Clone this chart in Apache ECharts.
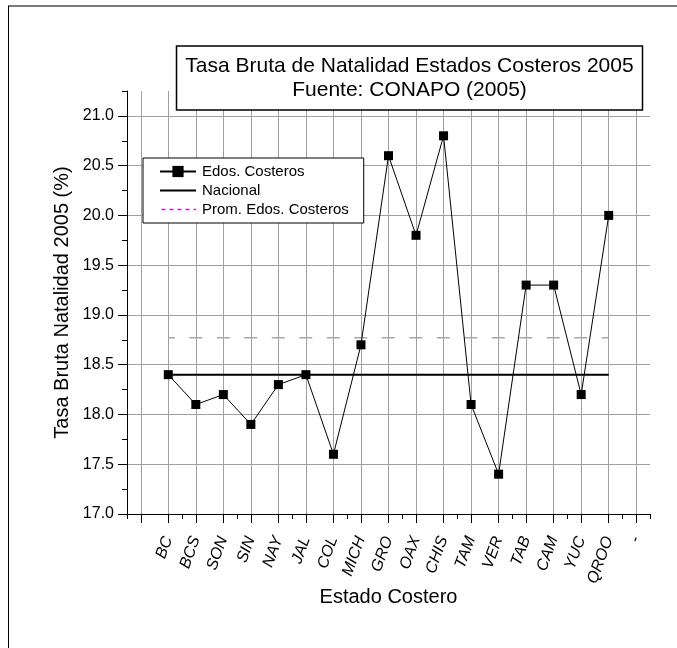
<!DOCTYPE html>
<html>
<head>
<meta charset="utf-8">
<script src="https://cdn.jsdelivr.net/npm/echarts@6/dist/echarts.min.js"></script>
<style>html,body{margin:0;padding:0;background:#fff}#c{width:677px;height:648px}</style>
</head>
<body>
<div id="c"></div>
<script>
const categories = ['', 'BC', 'BCS', 'SON', 'SIN', 'NAY', 'JAL', 'COL', 'MICH', 'GRO', 'OAX', 'CHIS', 'TAM', 'VER', 'TAB', 'CAM', 'YUC', 'QROO', '-'];
const edosCosteros = [null, 18.4, 18.1, 18.2, 17.9, 18.3, 18.4, 17.6, 18.7, 20.6, 19.8, 20.8, 18.1, 17.4, 19.3, 19.3, 18.2, 20.0, null];
const nacional = [null, 18.4, 18.4, 18.4, 18.4, 18.4, 18.4, 18.4, 18.4, 18.4, 18.4, 18.4, 18.4, 18.4, 18.4, 18.4, 18.4, 18.4, null];
const promEdos = [null, 18.77, 18.77, 18.77, 18.77, 18.77, 18.77, 18.77, 18.77, 18.77, 18.77, 18.77, 18.77, 18.77, 18.77, 18.77, 18.77, 18.77, null];
const yTickValues = [17.0, 17.5, 18.0, 18.5, 19.0, 19.5, 20.0, 20.5, 21.0];

const FONT = '"Liberation Sans", Arial, sans-serif';
const chart = echarts.init(document.getElementById('c'), null, {renderer: 'canvas'});
const option = {
  backgroundColor: '#fff',
  animation: false,
  textStyle: {fontFamily: FONT, color: '#000'},
  title: {
    text: 'Tasa Bruta de Natalidad Estados Costeros 2005\nFuente: CONAPO (2005)',
    left: 400.5,
    top: 46,
    textAlign: 'center',
    padding: [8, 9, 8, 9],
    borderColor: '#000',
    borderWidth: 1.5,
    backgroundColor: '#fff',
    textStyle: {fontFamily: FONT, fontSize: 21, fontWeight: 'normal', color: '#000', lineHeight: 24, align: 'center'}
  },
  legend: {
    orient: 'vertical',
    left: 143,
    top: 158,
    padding: [6, 15, 6, 16],
    itemWidth: 36,
    itemHeight: 14,
    itemGap: 4,
    borderColor: '#000',
    borderWidth: 1,
    backgroundColor: '#fff',
    textStyle: {fontFamily: FONT, fontSize: 15, color: '#000', padding: [0, 0, 0, 1]},
    data: [
      {name: 'Edos. Costeros'},
      {name: 'Nacional', itemStyle: {opacity: 0}},
      {name: 'Prom. Edos. Costeros', itemStyle: {opacity: 0}, lineStyle: {color: '#ff00ff', type: [4, 4], width: 1.5}}
    ]
  },
  grid: {left: 127, right: 27, top: 91, bottom: 134, containLabel: false, outerBoundsMode: 'none'},
  xAxis: [
    {
      type: 'category',
      data: categories,
      boundaryGap: true,
      position: 'bottom',
      name: 'Estado Costero',
      nameLocation: 'middle',
      nameGap: 73,
      nameMoveOverlap: false,
      nameTextStyle: {fontFamily: FONT, fontSize: 20, color: '#000'},
      axisLine: {show: true, lineStyle: {color: '#000', width: 1}},
      axisTick: {show: true, alignWithLabel: true, length: 9, lineStyle: {color: '#000', width: 1}},
      axisLabel: {interval: 0, rotate: 70, margin: 23, fontFamily: FONT, fontSize: 16, fontStyle: 'italic', color: '#000', hideOverlap: false},
      splitLine: {show: true, alignWithLabel: true, lineStyle: {color: '#a0a0a0', width: 1}}
    },
    {
      type: 'category',
      data: categories,
      boundaryGap: true,
      position: 'bottom',
      offset: 0,
      axisLine: {show: false},
      axisTick: {show: true, alignWithLabel: false, length: 5, lineStyle: {color: '#000', width: 1}},
      axisLabel: {show: false},
      splitLine: {show: false}
    }
  ],
  yAxis: [
    {
      type: 'value',
      min: 17,
      max: 21.25,
      interval: 0.5,
      position: 'left',
      name: 'Tasa Bruta Natalidad 2005 (%)',
      nameLocation: 'middle',
      nameGap: 55,
      nameMoveOverlap: false,
      nameTextStyle: {fontFamily: FONT, fontSize: 20, color: '#000'},
      axisLine: {show: true, lineStyle: {color: '#000', width: 1}},
      axisTick: {show: true, length: 9, customValues: yTickValues, lineStyle: {color: '#000', width: 1}},
      axisLabel: {
        customValues: yTickValues,
        margin: 13,
        fontFamily: FONT, fontSize: 16, color: '#000',
        formatter: v => Number(v).toFixed(1)
      },
      splitLine: {show: true, lineStyle: {color: '#a0a0a0', width: 1}}
    },
    {
      type: 'value',
      min: 17,
      max: 21.25,
      interval: 0.25,
      position: 'left',
      offset: 0,
      axisLine: {show: false},
      axisTick: {show: true, length: 5, lineStyle: {color: '#000', width: 1}},
      axisLabel: {show: false},
      splitLine: {show: false}
    }
  ],
  series: [
    {
      name: 'Prom. Edos. Costeros',
      type: 'line',
      data: promEdos,
      symbol: 'none',
      z: 2,
      lineStyle: {color: '#a8a8a8', width: 1.5, type: [13, 14.5], dashOffset: 6.5},
      itemStyle: {color: '#a8a8a8'}
    },
    {
      name: 'Nacional',
      type: 'line',
      data: nacional,
      symbol: 'none',
      z: 3,
      lineStyle: {color: '#000', width: 2},
      itemStyle: {color: '#000'}
    },
    {
      name: 'Edos. Costeros',
      type: 'line',
      data: edosCosteros,
      symbol: 'rect',
      symbolSize: 9,
      z: 4,
      lineStyle: {color: '#000', width: 1},
      itemStyle: {color: '#000'}
    }
  ],
  graphic: [
    {type: 'line', shape: {x1: 8, y1: 6, x2: 677, y2: 6}, style: {stroke: '#7a7a7a', lineWidth: 2}, silent: true},
    {type: 'line', shape: {x1: 8.5, y1: 6, x2: 8.5, y2: 648}, style: {stroke: '#000', lineWidth: 1}, silent: true}
  ]
};
chart.setOption(option);
</script>
</body>
</html>
